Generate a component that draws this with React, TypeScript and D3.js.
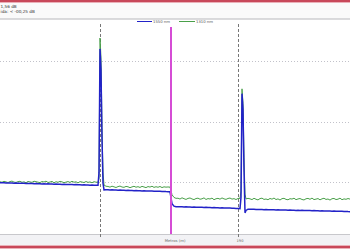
import React from "react";
import * as d3 from "d3";

// sampling grid (m): flat sections every 20 m, spikes sampled finely
const distanceM = [
  ...d3.range(0, 961, 20),
  980, 990, 1000, 1010, 1020, 1030, 1040, 1060,
  ...d3.range(1080, 1681, 20),
  1700, 1710, 1720, 1740, 1760,
  ...d3.range(1780, 2381, 20),
  2400, 2410, 2420, 2430, 2440, 2450, 2460, 2480,
  ...d3.range(2500, 3501, 20),
];

const loss1310 = [
  10.04, 9.96, 10.11, 10.02, 9.91, 10.07, 10.15, 9.98, 9.93, 10.06, 10.12, 9.95, 10.03, 9.88, 10.09, 10.01, 9.94, 10.13, 10.05, 9.97, 9.9, 10.08, 10.0, 10.14, 9.92,
  9.99, 10.1, 9.87, 10.04, 9.95, 10.11, 10.02, 9.89, 9.98, 10.07, 9.93, 10.12, 9.96, 10.03, 9.86, 10.06, 9.99, 9.91, 10.08, 9.94, 10.01, 9.88, 10.05, 9.97,
  9.95, 10.6, 33.8, 30.5, 19.0, 11.5, 9.5, 9.3,
  9.26, 9.15, 9.31, 9.2, 9.09, 9.24, 9.33, 9.17, 9.12, 9.27, 9.21, 9.06, 9.19, 9.29, 9.14, 9.23, 9.1, 9.28, 9.18, 9.07, 9.25, 9.16, 9.3, 9.11, 9.22, 9.13, 9.26, 9.08, 9.2, 9.15, 9.18,
  9.15, 8.6, 7.9, 7.45, 7.3,
  7.32, 7.18, 7.39, 7.24, 7.12, 7.29, 7.36, 7.2, 7.09, 7.27, 7.33, 7.15, 7.22, 7.38, 7.11, 7.26, 7.19, 7.34, 7.07, 7.23, 7.3, 7.16, 7.37, 7.21, 7.13, 7.28, 7.35, 7.17, 7.25, 7.1, 7.28,
  7.3, 8.5, 25.4, 23.0, 14.0, 8.0, 7.2, 7.3,
  7.22, 7.09, 7.31, 7.15, 7.04, 7.26, 7.33, 7.12, 7.19, 7.07, 7.28, 7.16, 7.35, 7.1, 7.21, 7.02, 7.25, 7.3, 7.13, 7.06, 7.24, 7.18, 7.32, 7.08, 7.2, 7.27,
  7.11, 7.03, 7.23, 7.29, 7.14, 7.34, 7.09, 7.17, 7.26, 7.05, 7.22, 7.31, 7.12, 7.19, 7.01, 7.24, 7.28, 7.1, 7.16, 7.33, 7.07, 7.21, 7.14, 7.27, 7.17,
];

const loss1550 = [
  9.88, 9.86, 9.88, 9.84, 9.85, 9.83, 9.85, 9.81, 9.82, 9.8, 9.81, 9.78, 9.8, 9.76, 9.77, 9.75, 9.76, 9.73, 9.74, 9.72, 9.73, 9.69, 9.71, 9.68, 9.69,
  9.66, 9.67, 9.64, 9.65, 9.63, 9.64, 9.6, 9.62, 9.59, 9.6, 9.57, 9.58, 9.55, 9.57, 9.53, 9.55, 9.52, 9.53, 9.5, 9.51, 9.48, 9.5, 9.46, 9.47,
  9.45, 11.5, 32.0, 28.5, 17.0, 9.8, 8.7, 8.72,
  8.7, 8.68, 8.7, 8.66, 8.67, 8.65, 8.66, 8.62, 8.64, 8.61, 8.62, 8.59, 8.6, 8.57, 8.58, 8.56, 8.57, 8.53, 8.55, 8.52, 8.53, 8.5, 8.51, 8.48, 8.49, 8.46, 8.47, 8.44, 8.45, 8.42, 8.4,
  8.38, 7.4, 6.4, 6.0, 5.9,
  5.92, 5.9, 5.91, 5.88, 5.89, 5.86, 5.88, 5.84, 5.86, 5.83, 5.84, 5.81, 5.82, 5.79, 5.81, 5.77, 5.79, 5.76, 5.77, 5.74, 5.75, 5.72, 5.74, 5.7, 5.72, 5.69, 5.7, 5.67, 5.68, 5.64, 5.62,
  5.6, 7.5, 24.6, 22.0, 12.0, 4.9, 5.3, 5.5,
  5.5, 5.48, 5.5, 5.46, 5.47, 5.45, 5.46, 5.43, 5.45, 5.42, 5.43, 5.4, 5.42, 5.39, 5.4, 5.37, 5.39, 5.36, 5.37, 5.34, 5.36, 5.33, 5.34, 5.31, 5.33, 5.3,
  5.31, 5.28, 5.3, 5.27, 5.28, 5.25, 5.27, 5.24, 5.25, 5.22, 5.24, 5.21, 5.22, 5.19, 5.21, 5.18, 5.19, 5.16, 5.18, 5.15, 5.16, 5.13, 5.14, 5.11, 5.09,
];

const gridDb = [10, 20, 30];
const markerM = [1000, 2380];
const cursorM = 1710;
const headerLines = ["1,56 dB", "ida: < -00,25 dB"];
const legendItems = [
  { label: "1550 nm", color: "#2222c8" },
  { label: "1310 nm", color: "#4aa04a" },
];
const axisLabel = "Metros (m)";
const markerBLabel = "190";

export default function App() {
  const W = 350;
  const H = 250;
  const x = d3.scaleLinear().domain([0, 3500]).range([0, 350]);
  const y = d3.scaleLinear().domain([0, 40]).range([242.5, 0.5]);
  const line = d3
    .line<number>()
    .x((_, i) => x(distanceM[i]))
    .y((d) => y(d));
  const font = "'DejaVu Sans', sans-serif";

  return (
    <div style={{ position: "fixed", left: 0, top: 0, width: W, height: H, background: "#fff" }}>
      <svg width={W} height={H} style={{ display: "block" }}>
        <rect x={0} y={0} width={W} height={H} fill="#fff" />
        {/* header */}
        <rect x={0} y={0} width={W} height={2} fill="#c8485a" />
        <rect x={0} y={2} width={W} height={1} fill="#eab0b8" />
        <rect x={0} y={3} width={W} height={16} fill="#fafafa" />
        <text x={0.5} y={7.5} fontSize={4.2} fontFamily={font} fill="#333">
          {headerLines[0]}
        </text>
        <text x={0.5} y={12.8} fontSize={4.2} fontFamily={font} fill="#333">
          {headerLines[1]}
        </text>
        <line x1={0} x2={W} y1={19} y2={19} stroke="#b8b8bc" strokeWidth={1} />
        {/* legend */}
        <line x1={137} x2={152} y1={21.5} y2={21.5} stroke={legendItems[0].color} strokeWidth={1} />
        <text x={153} y={22.8} fontSize={3.8} fontFamily={font} fill="#555">
          {legendItems[0].label}
        </text>
        <line x1={179} x2={195} y1={21.5} y2={21.5} stroke={legendItems[1].color} strokeWidth={1} />
        <text x={196} y={22.8} fontSize={3.8} fontFamily={font} fill="#555">
          {legendItems[1].label}
        </text>
        {/* grid */}
        {gridDb.map((g) => (
          <line
            key={g}
            x1={0}
            x2={W}
            y1={Math.round(y(g)) + 0.5}
            y2={Math.round(y(g)) + 0.5}
            stroke="#c2c2ca"
            strokeWidth={1}
            strokeDasharray="1,2"
          />
        ))}
        {/* bottom band */}
        <rect x={0} y={234} width={W} height={11} fill="#f2f2f5" />
        <line x1={0} x2={W} y1={234.5} y2={234.5} stroke="#c8c8cc" strokeWidth={1} />
        <text x={175} y={241.5} fontSize={3.8} fontFamily={font} fill="#666" textAnchor="middle">
          {axisLabel}
        </text>
        <text x={x(markerM[1]) + 2} y={241.5} fontSize={3.6} fontFamily={font} fill="#666" textAnchor="middle">
          {markerBLabel}
        </text>
        <rect x={0} y={245} width={W} height={1} fill="#eab0b8" />
        <rect x={0} y={246} width={W} height={2} fill="#c8485a" />
        <rect x={0} y={248} width={W} height={1} fill="#eab0b8" />
        {/* markers */}
        {markerM.map((m) => (
          <line
            key={m}
            x1={Math.round(x(m)) + 0.5}
            x2={Math.round(x(m)) + 0.5}
            y1={24}
            y2={238}
            stroke="#777"
            strokeWidth={1}
            strokeDasharray="3,2"
          />
        ))}
        {/* traces */}
        <path d={line(loss1310) || ""} fill="none" stroke="#4aa04a" strokeWidth={1} />
        <path d={line(loss1550) || ""} fill="none" stroke="#2222c8" strokeWidth={1.5} />
        {/* cursor */}
        <line x1={x(cursorM)} x2={x(cursorM)} y1={27} y2={234} stroke="#d54cd5" strokeWidth={2} />
      </svg>
    </div>
  );
}
